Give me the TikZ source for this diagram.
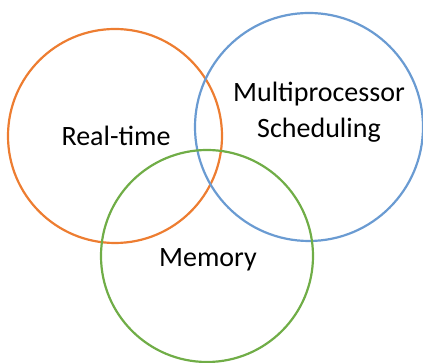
\documentclass[tikz,border=0pt]{standalone}
\usepackage{fontspec}
\setmainfont{Carlito}
\definecolor{rtorange}{HTML}{ED7D31}
\definecolor{mpblue}{HTML}{6A9BD2}
\definecolor{memgreen}{HTML}{70AD47}
\tikzset{
        venn/.style={circle, draw, line width=2.2pt, inner sep=0pt},
        setlabel/.style={font=\fontsize{28}{36}\selectfont, align=center, anchor=base, inner sep=0pt}
          }

\begin{document}
\begin{tikzpicture}[x=1pt, y=1pt]
        \useasboundingbox (0,0) rectangle (423,363);
        % the three sets
        \node[venn, draw=rtorange, minimum size=214pt] (rt) at (115,227) {};
        \node[venn, draw=mpblue, minimum size=228pt] (mp) at (309,236) {};
        \node[venn, draw=memgreen, minimum size=212pt] (mem) at (207,107) {};
        % labels
        \node[setlabel] (rtlabel) at (116,217) {Real-time};
        \node[setlabel] (mplabel) at (319,225) {Multiprocessor\\Scheduling};
        \node[setlabel] (memlabel) at (208,96) {Memory};
      \end{tikzpicture}
\end{document}
